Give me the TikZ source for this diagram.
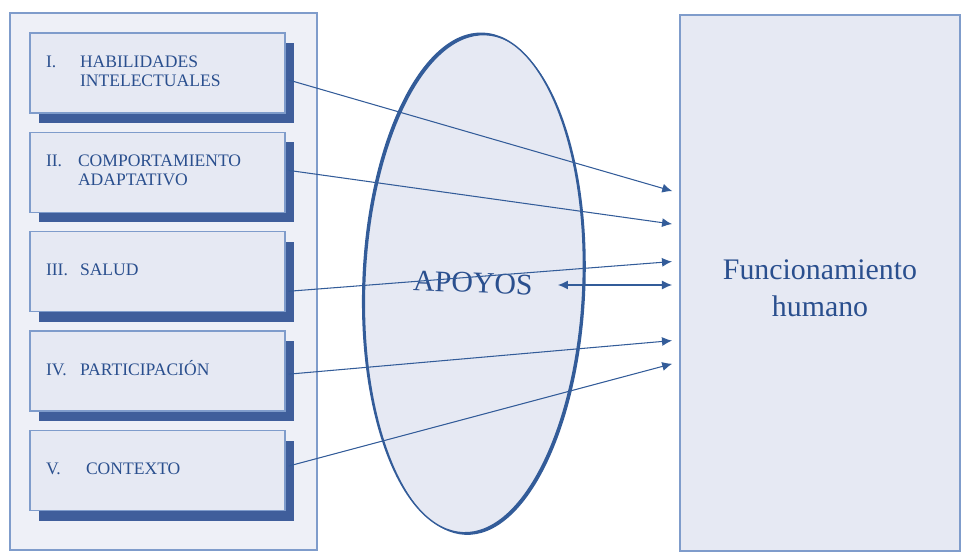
\documentclass[tikz,border=0pt]{standalone}
\usepackage{fontspec}
\setmainfont{Liberation Serif}
\usetikzlibrary{positioning,shapes.geometric,shadows,arrows.meta}

\definecolor{fillc}{HTML}{E6E9F3}
\definecolor{panelc}{HTML}{EEF0F7}
\definecolor{edgec}{HTML}{7F9CCB}
\definecolor{shadc}{HTML}{3F5E9B}
\definecolor{inkc}{HTML}{2A4F8E}
\definecolor{arrc}{HTML}{335C99}

\begin{document}
\begin{tikzpicture}[
        x=0.02cm, y=-0.02cm,
        panel/.style={rectangle, draw=edgec, fill=panelc, line width=0.8pt, minimum width=6.14cm, minimum height=10.74cm},
        dim/.style={rectangle, draw=edgec, fill=fillc, line width=0.8pt, minimum width=5.1cm, minimum height=1.6cm,
            inner xsep=0.32cm, text width=4.46cm, align=left, text=inkc, font=\fontsize{10}{11}\selectfont,
            general shadow={fill=shadc, draw=none, shadow xshift=0.18cm, shadow yshift=-0.2cm}},
        apoyo/.style={ellipse, draw=arrc, fill=fillc, line width=0.8pt, minimum width=4.4cm, minimum height=10cm,
            inner sep=0pt, text=inkc, font=\fontsize{17}{20}\selectfont},
        func/.style={rectangle, draw=edgec, fill=fillc, line width=1.2pt, minimum width=5.6cm, minimum height=10.72cm,
            text=inkc, font=\fontsize{17}{21}\selectfont},
        link/.style={draw=arrc, line width=0.6pt, -{Latex[length=2mm,width=1.8mm]}, shorten >=0.14cm},
        node distance=0.36cm
    ]
    \useasboundingbox (0,0) rectangle (962,553);

    \node[panel] (panel) at (163.5,281.5) {};

    \node[dim] (hab) at (157.5,73) {%
        \begin{tabular}{@{}p{0.68cm}@{}l@{}} I. & HABILIDADES\\ & INTELECTUALES\end{tabular}};
    \node[dim, below=of hab] (adap) {%
        \begin{tabular}{@{}p{0.64cm}@{}l@{}} II. & COMPORTAMIENTO\\ & ADAPTATIVO\end{tabular}};
    \node[dim, below=of adap] (salud) {%
        \begin{tabular}{@{}p{0.68cm}@{}l@{}} III. & SALUD\end{tabular}};
    \node[dim, below=of salud] (part) {%
        \begin{tabular}{@{}p{0.68cm}@{}l@{}} IV. & PARTICIPACIÓN\end{tabular}};
    \node[dim, below=of part] (cont) {%
        \begin{tabular}{@{}p{0.8cm}@{}l@{}} V. & CONTEXTO\end{tabular}};

    \node[apoyo, rotate=-2.3] (apoyos) at (473,283) {APOYOS};
    % borde derecho mas grueso
    \fill[arrc, even odd rule, rotate around={-2.3:(473,283)}]
        (475.5,285) ellipse [x radius=2.2cm, y radius=5cm]
        (473,283) ellipse [x radius=2.2cm, y radius=5cm];

    \node[func] (fun) at (820,283) {\raisebox{-0.16cm}[\height][\depth]{\begin{tabular}{@{}c@{}}Funcionamiento\\humano\end{tabular}}};

    % conexiones hacia el funcionamiento
    \draw[link] ([xshift=0.06cm, yshift=-0.14cm]hab.east) -- ([yshift=1.8cm]fun.west);
    \draw[link] ([xshift=0.06cm, yshift=0.04cm]adap.east) -- ([yshift=1.16cm]fun.west);
    \draw[link] ([xshift=0.06cm, yshift=-0.39cm]salud.east) -- ([yshift=0.44cm]fun.west);
    \draw[link] ([xshift=0.06cm, yshift=-0.06cm]part.east) -- ([yshift=-1.14cm]fun.west);
    \draw[link] ([xshift=0.06cm, yshift=0.09cm]cont.east) -- ([yshift=-1.58cm]fun.west);
    \draw[link, {Latex[length=2mm,width=1.8mm]}-{Latex[length=2mm,width=1.8mm]}]
        ([xshift=1.7cm, yshift=-0.04cm]apoyos.center) -- ([yshift=-0.04cm]fun.west);
\end{tikzpicture}
\end{document}
